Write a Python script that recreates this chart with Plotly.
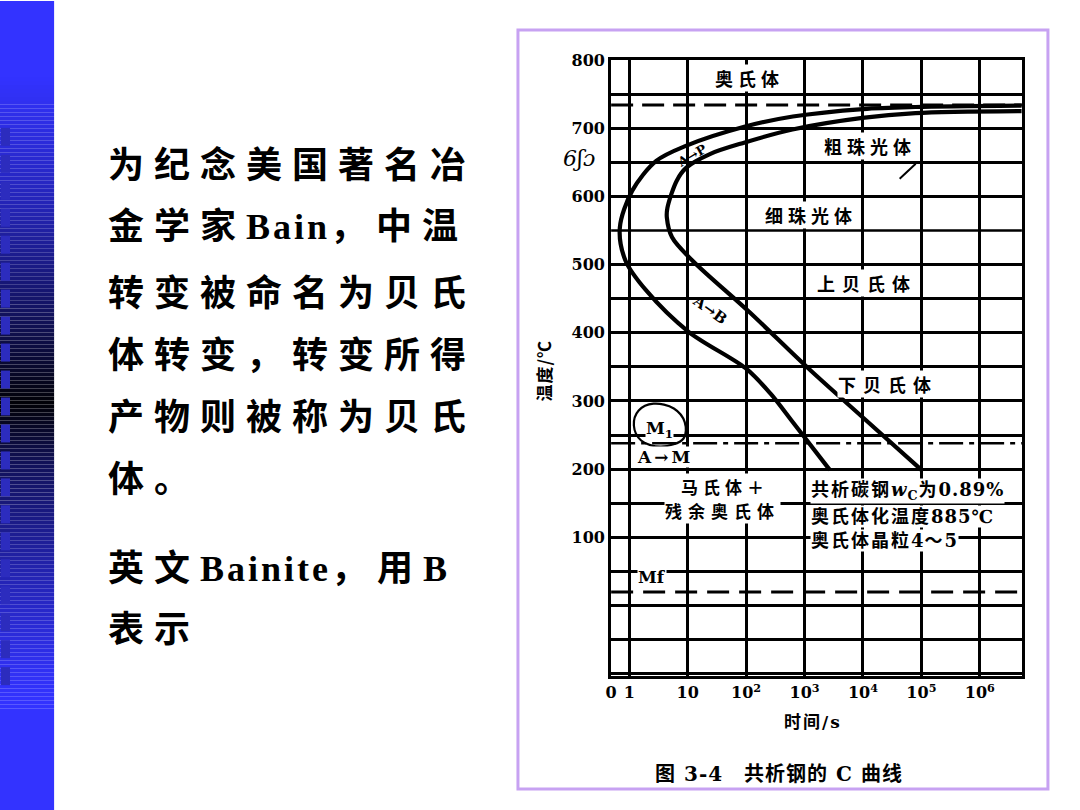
import numpy as np
import plotly.graph_objects as go

W, H = 1080, 810            # reference picture size (coordinates below are in these pixels)
FIG_W, FIG_H = 1088, 818    # figure size (compensates the page offset of the viewer)

# ---------------- data ----------------
# C-curve of eutectoid steel: transformation start / finish (time in s, temperature in degC)
start_time_s = [2700, 590, 260, 98, 10.5, 1.95, 0.86, 0.69, 1.12, 2.9, 9.3, 93, 630, 10000, 79000, 5.2e6]
start_temp_c = [199, 272, 311, 348, 401, 462, 506, 554, 608, 652, 674, 702, 717, 728, 731, 733]
finish_time_s = [100000, 10200, 1120, 115, 12, 5.4, 4.4, 4.5, 6.5, 9.5, 24, 95, 620, 9800, 79000, 5.2e6]
finish_temp_c = [199, 275, 349, 430, 506, 540, 569, 583, 623, 642, 662, 679, 698, 715, 722, 725]
# hand-drawn loop around the M1 label
m1_loop_time_s = [2.6, 5.8, 8.9, 8.5, 3.5, 1.6, 1.2, 1.45, 2.6]
m1_loop_temp_c = [296, 289, 269, 245, 233, 242, 264, 286, 296]

a1_temp_c = 734      # dashed line (A1)
ms_temp_c = 238      # dash-dot line (Ms)
mf_temp_c = 20       # dashed line (Mf)
p_b_boundary_c = 550 # pearlite / bainite boundary

x_tick_vals = [0.49, 1, 10, 100, 1e3, 1e4, 1e5, 1e6]
x_tick_text = ["0", "1", "10", "10<sup>2</sup>", "10<sup>3</sup>", "10<sup>4</sup>", "10<sup>5</sup>", "10<sup>6</sup>"]
y_tick_vals = [100, 200, 300, 400, 500, 600, 700, 800]
y_tick_text = ["100", "200", "300", "400", "500", "600", "700", "800"]
y_minor_grid = [-100, -50, 0, 50, 150, 250, 350, 450, 650, 750]

left_text_lines = ["为纪念美国著名冶", "金学家Bain，中温", "转变被命名为贝氏", "体转变，转变所得",
                   "产物则被称为贝氏", "体。", "英文Bainite，用B", "表示"]

region_labels = ["奥氏体", "粗珠光体", "细珠光体", "上贝氏体", "下贝氏体", "马氏体＋", "残余奥氏体"]
note_lines = ["共析碳钢<i>w</i><sub>C</sub>为0.89%", "奥氏体化温度885℃", "奥氏体晶粒4～5"]
caption = "图 3-4　共析钢的 C 曲线"

# ---------------- styling helpers ----------------
CJK = "Noto Sans CJK SC"
SERIF = "DejaVu Serif"
LEFT_FONT = "Liberation Serif, Noto Sans CJK SC"


def spaced(text, size, cjk_ls, latin_ls):
    """wrap runs of ASCII / non-ASCII text with different letter spacing"""
    out, run, is_ascii = [], "", None
    for ch in text:
        a = ord(ch) < 128
        if is_ascii is None or a == is_ascii:
            run += ch
        else:
            out.append((run, is_ascii))
            run = ch
        is_ascii = a
    if run:
        out.append((run, is_ascii))
    return "".join(f'<span style="font-size:{size}px;letter-spacing:{latin_ls if a else cjk_ls}px">{r}</span>'
                   for r, a in out)


def ann(text, x, y, size, family=CJK, bg=None, angle=0, xanchor="center", ls=None, weight="bold",
        italic=False, pad=1):
    if ls:
        text = f'<span style="font-size:{size}px;letter-spacing:{ls}px">{text}</span>'
    d = dict(text=text, x=x / W, y=1 - y / H, xref="paper", yref="paper", showarrow=False,
             xanchor=xanchor, yanchor="middle", textangle=angle,
             font=dict(family=family, size=size, color="black", weight=weight,
                       style="italic" if italic else "normal"))
    if bg:
        d.update(bgcolor=bg, borderpad=pad)
    return d


fig = go.Figure()

fig.add_trace(go.Scatter(x=start_time_s, y=start_temp_c, mode="lines",
                         line=dict(color="black", width=4.2, shape="spline", smoothing=0.9),
                         hoverinfo="skip"))
fig.add_trace(go.Scatter(x=finish_time_s, y=finish_temp_c, mode="lines",
                         line=dict(color="black", width=4.2, shape="spline", smoothing=0.9),
                         hoverinfo="skip"))
fig.add_trace(go.Scatter(x=m1_loop_time_s, y=m1_loop_temp_c, mode="lines",
                         line=dict(color="black", width=2.2, shape="spline", smoothing=1.0),
                         hoverinfo="skip"))

shapes = []
# left decorative bar (gradient + squares)
stops_y = [0, 77, 207, 310, 362, 403, 465, 568, 672, 700, 810]
stops_b = [1.0, 1.0, 0.71, 0.38, 0.2, 0.03, 0.36, 0.68, 0.96, 1.0, 1.0]
band = 4
for y0 in range(0, H, band):
    b = float(np.interp(y0 + band / 2, stops_y, stops_b))
    col = f"rgb({int(51 * b)},{int(51 * b)},{int(255 * b)})"
    shapes.append(dict(type="rect", xref="paper", yref="paper", x0=0, x1=56 / W,
                       y0=1 - (y0 + band) / H, y1=1 - y0 / H, fillcolor=col, line=dict(width=0), layer="below"))
for k in range(21):
    yt = 127 + 27 * k
    shapes.append(dict(type="rect", xref="paper", yref="paper", x0=3 / W, x1=12 / W,
                       y0=1 - (yt + 18) / H, y1=1 - yt / H, fillcolor="rgb(44,44,190)",
                       line=dict(width=0), layer="below"))
# chart frame (lavender)
shapes.append(dict(type="rect", xref="paper", yref="paper", x0=519 / W, x1=1048 / W,
                   y0=1 - 789 / H, y1=1 - 29 / H, line=dict(color="#c7a2f2", width=3), layer="below"))
# special horizontal lines
shapes.append(dict(type="line", xref="x domain", yref="y", x0=0, x1=1, y0=a1_temp_c, y1=a1_temp_c,
                   line=dict(color="black", width=3, dash="22px,9px")))
shapes.append(dict(type="line", xref="x domain", yref="y", x0=0, x1=1, y0=ms_temp_c, y1=ms_temp_c,
                   line=dict(color="black", width=2.5, dash="24px,6px,5px,6px")))
shapes.append(dict(type="line", xref="x domain", yref="y", x0=0, x1=1, y0=mf_temp_c, y1=mf_temp_c,
                   line=dict(color="black", width=3, dash="22px,10px")))
shapes.append(dict(type="line", xref="x domain", yref="y", x0=0, x1=1, y0=p_b_boundary_c, y1=p_b_boundary_c,
                   line=dict(color="black", width=2.5)))
# pointer near 粗珠光体
shapes.append(dict(type="line", xref="paper", yref="paper", x0=900 / W, x1=916 / W,
                   y0=1 - 178 / H, y1=1 - 163 / H, line=dict(color="black", width=2)))

annotations = []
# left slide text
left_y = [165, 226, 293, 355, 418, 480, 569, 630]
for txt, yy in zip(left_text_lines, left_y):
    annotations.append(ann(spaced(txt, 36, 10, 3), 108, yy, 36, family=LEFT_FONT, xanchor="left"))

# chart labels
lab_pos = [(750, 77), (870, 145), (811, 214), (867, 282), (888, 383), (726, 486), (723, 510)]
lab_ls = [5, 5, 5, 7, 7, 5, 6]
lab_size = [18, 18, 18, 18, 18, 17, 17]
for txt, (xx, yy), l, s in zip(region_labels, lab_pos, lab_ls, lab_size):
    annotations.append(ann(txt, xx, yy, s, bg="white", ls=l, pad=0))
for txt, yy in zip(note_lines, [491, 516, 540]):
    annotations.append(ann(spaced(txt, 18, 2, 1), 810, yy, 18, family="DejaVu Serif, Noto Sans CJK SC",
                           bg="white", xanchor="left", pad=0))
annotations.append(ann("A→P", 693, 155, 13, family=SERIF, angle=-30))
annotations.append(ann("A→B", 711, 309, 15, family=SERIF, angle=36))
annotations.append(ann("M<sub>1</sub>", 660, 429, 17, family=SERIF, bg="white", pad=0))
annotations.append(ann("A→M", 666, 457, 17, family=SERIF, bg="white", ls=3, pad=0))
annotations.append(ann("Mf", 653, 577, 17, family=SERIF, bg="white", pad=0))
annotations.append(ann("6ʃɔ", 580, 158, 22, family=SERIF, weight="normal", italic=True))
# axis titles and caption
annotations.append(ann("温度/℃", 545, 370, 17, family="Noto Sans CJK SC", angle=-90, ls=1))
annotations.append(ann("时间/s", 813, 722, 17, family="DejaVu Serif, Noto Sans CJK SC", ls=2))
annotations.append(ann(caption, 780, 774, 20, family="DejaVu Serif, Noto Sans CJK SC", ls=1))

tick_font = dict(family=SERIF, size=16, color="black", weight="bold")
grid_minor = dict(tickmode="array", tickvals=y_minor_grid, showgrid=True, gridcolor="black",
                  gridwidth=2.5, ticks="")
fig.update_layout(
    width=FIG_W, height=FIG_H, margin=dict(l=0, r=0, t=0, b=0),
    paper_bgcolor="white", plot_bgcolor="white", showlegend=False,
    xaxis=dict(type="log", domain=[612 / W, 1022 / W], range=[-0.31, 6.72],
               tickmode="array", tickvals=x_tick_vals, ticktext=x_tick_text,
               showgrid=True, gridcolor="black", gridwidth=2.5,
               showline=True, mirror=True, linecolor="black", linewidth=3,
               ticks="", tickfont=tick_font, zeroline=False),
    yaxis=dict(domain=[1 - 676 / H, 1 - 59 / H], range=[-103.5, 800],
               tickmode="array", tickvals=y_tick_vals, ticktext=y_tick_text,
               showgrid=True, gridcolor="black", gridwidth=2.5, minor=grid_minor,
               showline=True, mirror=True, linecolor="black", linewidth=3,
               ticks="", tickfont=tick_font, zeroline=False),
    shapes=shapes, annotations=annotations,
)

fig.write_html("out.html", config={"displayModeBar": False},
               post_script="document.body.style.margin='-8px 0 0 -8px';"
                           "document.body.style.padding='0';"
                           "document.documentElement.style.overflow='hidden';")
